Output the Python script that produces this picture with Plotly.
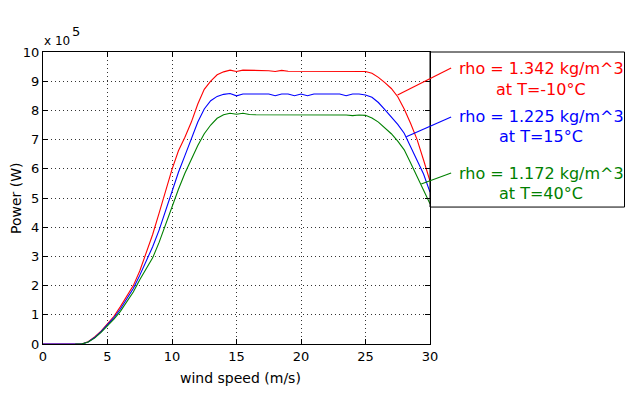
import plotly.graph_objects as go

# wind speed (m/s)
wind_speed = [0, 0.5, 1, 1.5, 2, 2.5, 3, 3.5, 4, 4.5, 5, 5.5, 6, 6.5, 7, 7.5, 8, 8.5, 9, 9.5,
              10, 10.5, 11, 11.5, 12, 12.5, 13, 13.5, 14, 14.5, 15, 15.5, 16, 16.5, 17, 17.5,
              18, 18.5, 19, 19.5, 20, 20.5, 21, 21.5, 22, 22.5, 23, 23.5, 24, 24.5, 25, 25.5,
              26, 26.5, 27, 27.5, 28, 28.5, 29, 29.5, 30]

# power in units of 1e5 W
power_rho_1342 = [0, 0, 0, 0, 0, 0, 0, 0.08, 0.24, 0.44, 0.68, 0.95, 1.28, 1.63, 2.0, 2.5, 3.12, 3.75, 4.48, 5.25,
                  5.98, 6.62, 7.08, 7.6, 8.22, 8.72, 9.0, 9.22, 9.32, 9.38, 9.33, 9.38, 9.38, 9.38, 9.38, 9.36,
                  9.33, 9.37, 9.34, 9.34, 9.34, 9.34, 9.34, 9.34, 9.34, 9.34, 9.34, 9.34, 9.34, 9.34, 9.33, 9.27,
                  9.13, 8.95, 8.75, 8.47, 8.05, 7.55, 7.0, 6.3, 5.58]
power_rho_1225 = [0, 0, 0, 0, 0, 0, 0, 0.07, 0.22, 0.42, 0.65, 0.9, 1.2, 1.55, 1.9, 2.35, 2.82, 3.33, 3.9, 4.55,
                  5.22, 5.88, 6.45, 7.05, 7.6, 8.05, 8.33, 8.48, 8.55, 8.58, 8.5, 8.56, 8.56, 8.56, 8.56, 8.56,
                  8.5, 8.56, 8.56, 8.5, 8.56, 8.5, 8.56, 8.56, 8.56, 8.56, 8.56, 8.5, 8.56, 8.56, 8.53, 8.45,
                  8.27, 8.03, 7.78, 7.52, 7.22, 6.77, 6.3, 5.82, 5.2]
power_rho_1172 = [None, None, None, None, None, 0, 0, 0.07, 0.2, 0.4, 0.62, 0.85, 1.12, 1.45, 1.78, 2.2, 2.58, 2.95, 3.48, 4.1,
                  4.75, 5.3, 5.85, 6.35, 6.8, 7.2, 7.5, 7.73, 7.85, 7.9, 7.87, 7.9, 7.86, 7.85, 7.85, 7.85,
                  7.85, 7.85, 7.85, 7.85, 7.85, 7.85, 7.85, 7.85, 7.85, 7.85, 7.85, 7.84, 7.82, 7.84, 7.83, 7.74,
                  7.6, 7.41, 7.2, 6.95, 6.65, 6.2, 5.75, 5.27, 4.8]

series_colors = ["#ff0000", "#0000ff", "#008000"]
label_line1 = ["rho = 1.342 kg/m^3", "rho = 1.225 kg/m^3", "rho = 1.172 kg/m^3"]
label_line2 = ["at T=-10°C", "at T=15°C", "at T=40°C"]

x_ticks = [0, 5, 10, 15, 20, 25, 30]
y_ticks = [0, 1, 2, 3, 4, 5, 6, 7, 8, 9, 10]

FONT = "DejaVu Sans"

fig = go.Figure()
for ys, c in zip([power_rho_1342, power_rho_1225, power_rho_1172], series_colors):
    fig.add_trace(go.Scatter(x=wind_speed, y=ys, mode="lines",
                             line=dict(color=c, width=1.1), showlegend=False,
                             connectgaps=False))

axis_common = dict(showline=True, linecolor="black", linewidth=1, mirror="ticks",
                   ticks="inside", ticklen=5, tickcolor="black",
                   showgrid=True, gridcolor="#333333", griddash="1px,3px", gridwidth=1,
                   zeroline=False, tickfont=dict(family=FONT, size=13, color="black"))

fig.update_xaxes(range=[0, 30], tickvals=x_ticks, **axis_common)
fig.update_yaxes(range=[0, 10], tickvals=y_ticks, **axis_common)

# legend box to the right of the axes
shapes = [dict(type="rect", xref="paper", yref="paper", x0=1.0, x1=1.5026, y0=0.469, y1=1.0,
               line=dict(color="black", width=1), fillcolor="rgba(0,0,0,0)")]
leader = [(1.0546, 0.9452, 0.9162, 0.8527), (1.0546, 0.7774, 0.9387, 0.7099), (1.0546, 0.5856, 0.9773, 0.5479)]
for (x0, y0, x1, y1), c in zip(leader, series_colors):
    shapes.append(dict(type="line", xref="paper", yref="paper", x0=x0, y0=y0, x1=x1, y1=y1,
                       line=dict(color=c, width=1.1)))

annotations = []
text_y = [(0.9452, 0.8699), (0.7774, 0.7123), (0.5856, 0.5171)]
for (y1, y2), t1, t2, c in zip(text_y, label_line1, label_line2, series_colors):
    annotations.append(dict(xref="paper", yref="paper", x=1.287, y=y1, text=t1, showarrow=False,
                            xanchor="center", yanchor="middle", font=dict(family=FONT, size=16, color=c)))
    annotations.append(dict(xref="paper", yref="paper", x=1.287, y=y2, text=t2, showarrow=False,
                            xanchor="center", yanchor="middle", font=dict(family=FONT, size=16, color=c)))

annotations.append(dict(xref="paper", yref="paper", x=0.51, y=-0.1164, text="wind speed (m/s)",
                        showarrow=False, xanchor="center", yanchor="middle",
                        font=dict(family=FONT, size=14, color="black")))
annotations.append(dict(xref="paper", yref="paper", x=-0.0696, y=0.5, text="Power (W)", textangle=-90,
                        showarrow=False, xanchor="center", yanchor="middle",
                        font=dict(family=FONT, size=14, color="black")))
annotations.append(dict(xref="paper", yref="paper", x=0.0, y=1.01, text="x 10",
                        showarrow=False, xanchor="left", yanchor="bottom", borderpad=0,
                        font=dict(family=FONT, size=12, color="black")))
annotations.append(dict(xref="paper", yref="paper", x=0.0735, y=1.04, text="5",
                        showarrow=False, xanchor="left", yanchor="bottom", borderpad=0,
                        font=dict(family=FONT, size=13, color="black")))

# page body has an 8px margin: shift the figure so the axes land where the reference has them
fig.update_layout(width=632, height=386, margin=dict(l=34.5, r=209.5, t=44, b=50),
                  paper_bgcolor="white", plot_bgcolor="white",
                  shapes=shapes, annotations=annotations,
                  font=dict(family=FONT, color="black"))

fig.write_html("out.html")
